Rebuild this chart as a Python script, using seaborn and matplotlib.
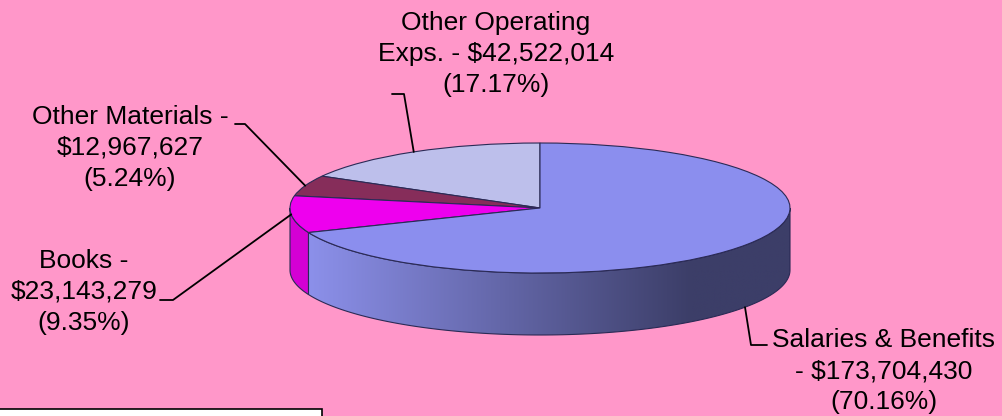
import numpy as np
import matplotlib
matplotlib.use("Agg")
import matplotlib.pyplot as plt
from matplotlib.patches import Polygon, Rectangle
import seaborn as sns

# data (counter-clockwise from the top)
categories = ["Other Operating Exps.", "Other Materials", "Books", "Salaries & Benefits"]
amounts = [42522014, 12967627, 23143279, 173704430]
percents = [17.17, 5.24, 9.35, 70.16]
label_texts = [
    "Other Operating\nExps. - $42,522,014\n(17.17%)",
    "Other Materials -\n$12,967,627\n(5.24%)",
    "Books -\n$23,143,279\n(9.35%)",
    "Salaries & Benefits\n- $173,704,430\n(70.16%)",
]

top_colors = ["#bdbfeb", "#862d5a", "#ee00ee", "#8b8eee"]
side_colors = ["#a9abd8", "#6e2249", "#d400d4", None]
bg = "#ff97c9"
edge = "#2a2a55"

W, H = 1003, 416
CX, CY, RX, RY = 540, 208, 250, 65
DEPTH = 62 / RY


def to_data(px, py):
    return (px - CX) / RX, (CY - py) / RY


sns.set_style("white")
plt.rcParams["font.family"] = ["Liberation Sans", "DejaVu Sans"]

fig = plt.figure(figsize=(W / 100, H / 100), dpi=100, facecolor=bg)
ax = fig.add_axes([0, 0, 1, 1])
ax.set_facecolor(bg)

# angle boundaries from the data
fracs = np.array(amounts, dtype=float) / sum(amounts)
bounds = 90 + 360 * np.concatenate([[0], np.cumsum(fracs)])

# side walls (front half only)
for i in range(len(amounts)):
    a0, a1 = max(bounds[i], 180), min(bounds[i + 1], 360)
    if a1 <= a0:
        continue
    t = np.radians(np.linspace(a0, a1, 200))
    xs, ys = np.cos(t), np.sin(t)
    verts = np.vstack([np.column_stack([xs, ys]),
                       np.column_stack([xs[::-1], ys[::-1] - DEPTH])])
    if side_colors[i] is not None:
        poly = Polygon(verts, closed=True, facecolor=side_colors[i],
                       edgecolor=edge, linewidth=0.8, zorder=1)
        ax.add_patch(poly)
    else:
        poly = Polygon(verts, closed=True, facecolor="none",
                       edgecolor=edge, linewidth=0.8, zorder=2)
        ax.add_patch(poly)
        # light-to-dark shading across the wall
        light = np.array([140, 144, 234]) / 255
        dark = np.array([60, 62, 104]) / 255
        gx = np.linspace(xs.min(), xs.max(), 400)
        w = np.clip((gx - xs.min()) / (to_data(690, 0)[0] - xs.min()), 0, 1)
        grad = light[None, :] * (1 - w[:, None]) + dark[None, :] * w[:, None]
        img = ax.imshow(grad[None, :, :], extent=[xs.min(), xs.max(),
                        ys.min() - DEPTH, ys.max()], aspect="auto", zorder=1)
        img.set_clip_path(poly)

# top face
ax.pie(amounts, colors=top_colors, startangle=90, counterclock=True,
       radius=1, center=(0, 0), frame=True,
       wedgeprops=dict(edgecolor=edge, linewidth=0.8, zorder=3))

ax.set_aspect("auto")
ax.set_xlim(to_data(0, 0)[0], to_data(W, 0)[0])
ax.set_ylim(to_data(0, H)[1], to_data(0, 0)[1])
ax.set_xticks([])
ax.set_yticks([])
for s in ax.spines.values():
    s.set_visible(False)

# labels and leader lines
text_pos = [(496, 54), (130, 148), (84, 292), (884, 371)]
elbows = [[(404, 94), (392, 94)],
          [(245, 124), (235, 124)],
          [(173, 300), (160, 300)],
          [(751, 345), (767, 345)]]
for i, txt in enumerate(label_texts):
    mid = np.radians((bounds[i] + bounds[i + 1]) / 2)
    if np.sin(mid) < -0.3:
        # front slice: start on the bottom rim of the wall
        bx = to_data(745, 0)[0]
        ax_pt = (bx, -np.sqrt(1 - bx ** 2) - DEPTH)
    else:
        ax_pt = (np.cos(mid), np.sin(mid))
    pts = [ax_pt] + [to_data(*p) for p in elbows[i]]
    ax.plot([p[0] for p in pts], [p[1] for p in pts], color="black",
            linewidth=1.3, zorder=4)
    tx, ty = to_data(*text_pos[i])
    ax.text(tx, ty, txt, ha="center", va="center", fontsize=19,
            linespacing=1.37, color="black", zorder=5)

# cut-off box at lower left
fig.patches.append(Rectangle((-0.01, -0.1), (322 / W) + 0.01, 0.1 + 7 / H,
                             transform=fig.transFigure, facecolor="white",
                             edgecolor="black", linewidth=1.2, zorder=6))

fig.savefig("out.png", dpi=100, facecolor=bg)
